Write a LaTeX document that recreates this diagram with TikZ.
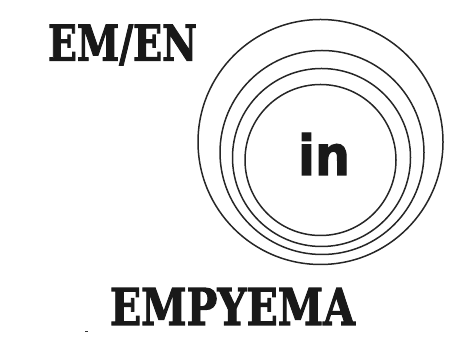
\documentclass[tikz,border=0pt]{standalone}
\usepackage{fontspec}
\setmainfont{DejaVu Serif}
\newfontfamily\heavyserif[BoldFont={DejaVu Serif Bold},BoldFeatures={FakeBold=2.2}]{DejaVu Serif}
\newfontfamily\insans[BoldFont={DejaVu Sans Bold},BoldFeatures={FakeBold=2}]{DejaVu Sans}
\begin{document}
\begin{tikzpicture}[x=1pt,y=1pt,
  ring/.style={draw=black!85, line width=1.5pt, circle, inner sep=0pt},
  word/.style={inner sep=0pt, text=black!90}]
\useasboundingbox (0,0) rectangle (460,339);
\node[ring, minimum size=245pt] (c1) at (320.5,197) {};
\node[ring, minimum size=204pt] (c2) at (322,186.5) {};
\node[ring, minimum size=178pt] (c3) at (321.5,181.5) {};
\node[ring, minimum size=151pt] (c4) at (320.5,179) {};
\node[word] (in) at (324,185) {\resizebox{52pt}{42pt}{\insans\bfseries in}};
\node[word] (emen) at (122.5,294) {\resizebox{149pt}{36pt}{\heavyserif\bfseries EM/EN}};
\node[word] (emp) at (232.5,32.5) {\resizebox{245pt}{37pt}{\heavyserif\bfseries EMPYEMA}};
\fill[black!80] (84.5,6.5) rectangle (87.5,8);
\end{tikzpicture}
\end{document}
